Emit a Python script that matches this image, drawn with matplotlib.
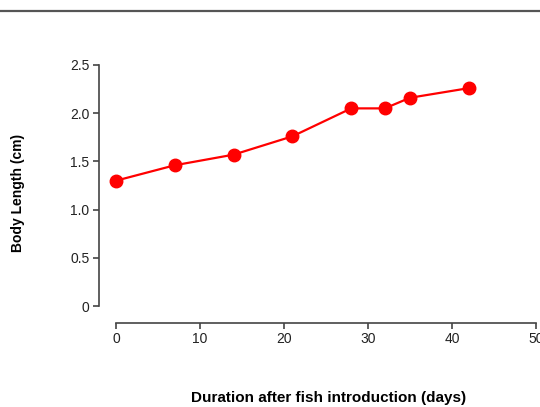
import matplotlib
matplotlib.use("Agg")
import matplotlib.pyplot as plt
from matplotlib.lines import Line2D

# data
days = [0, 7, 14, 21, 28, 32, 35, 42]
body_length = [1.3, 1.46, 1.57, 1.76, 2.05, 2.05, 2.16, 2.26]
x_ticks = [0, 10, 20, 30, 40, 50]
y_ticks = [0, 0.5, 1.0, 1.5, 2.0, 2.5]
y_tick_labels = ["0", "0.5", "1.0", "1.5", "2.0", "2.5"]

plt.rcParams['font.family'] = ['Liberation Sans', 'DejaVu Sans']

fig = plt.figure(figsize=(5.4, 4.07), dpi=100)
ax = fig.add_axes([116 / 540, 1 - 306 / 407, 420 / 540, 241 / 407])

ax.plot(days, body_length, color='#ff0000', lw=1.6, marker='o',
        markersize=9, clip_on=False, zorder=3)

ax.set_xlim(0, 50)
ax.set_ylim(0, 2.5)
ax.set_xticks(x_ticks)
ax.set_yticks(y_ticks)
ax.set_yticklabels(y_tick_labels)

for side in ['top', 'right']:
    ax.spines[side].set_visible(False)
ax.spines['left'].set_position(('outward', 12))
ax.spines['bottom'].set_position(('outward', 12))
for side in ['left', 'bottom']:
    ax.spines[side].set_color('#444444')
    ax.spines[side].set_linewidth(1.2)

ax.tick_params(direction='out', length=4, width=1.2, color='#444444',
               labelsize=10, labelcolor='#222222', pad=3)

ax.set_ylabel("Body Length (cm)", fontsize=10, fontweight='bold', va='center')
ax.yaxis.set_label_coords(-0.233, 0.469)
ax.set_xlabel("Duration after fish introduction (days)", fontsize=11,
              fontweight='bold', va='center')
ax.xaxis.set_label_coords(0.505, -0.382)

# rule across the top of the image
fig.add_artist(Line2D([0, 1], [1 - 10.5 / 407] * 2, color='#555555', lw=1.6,
                      transform=fig.transFigure))

fig.savefig("out.png", dpi=100)
